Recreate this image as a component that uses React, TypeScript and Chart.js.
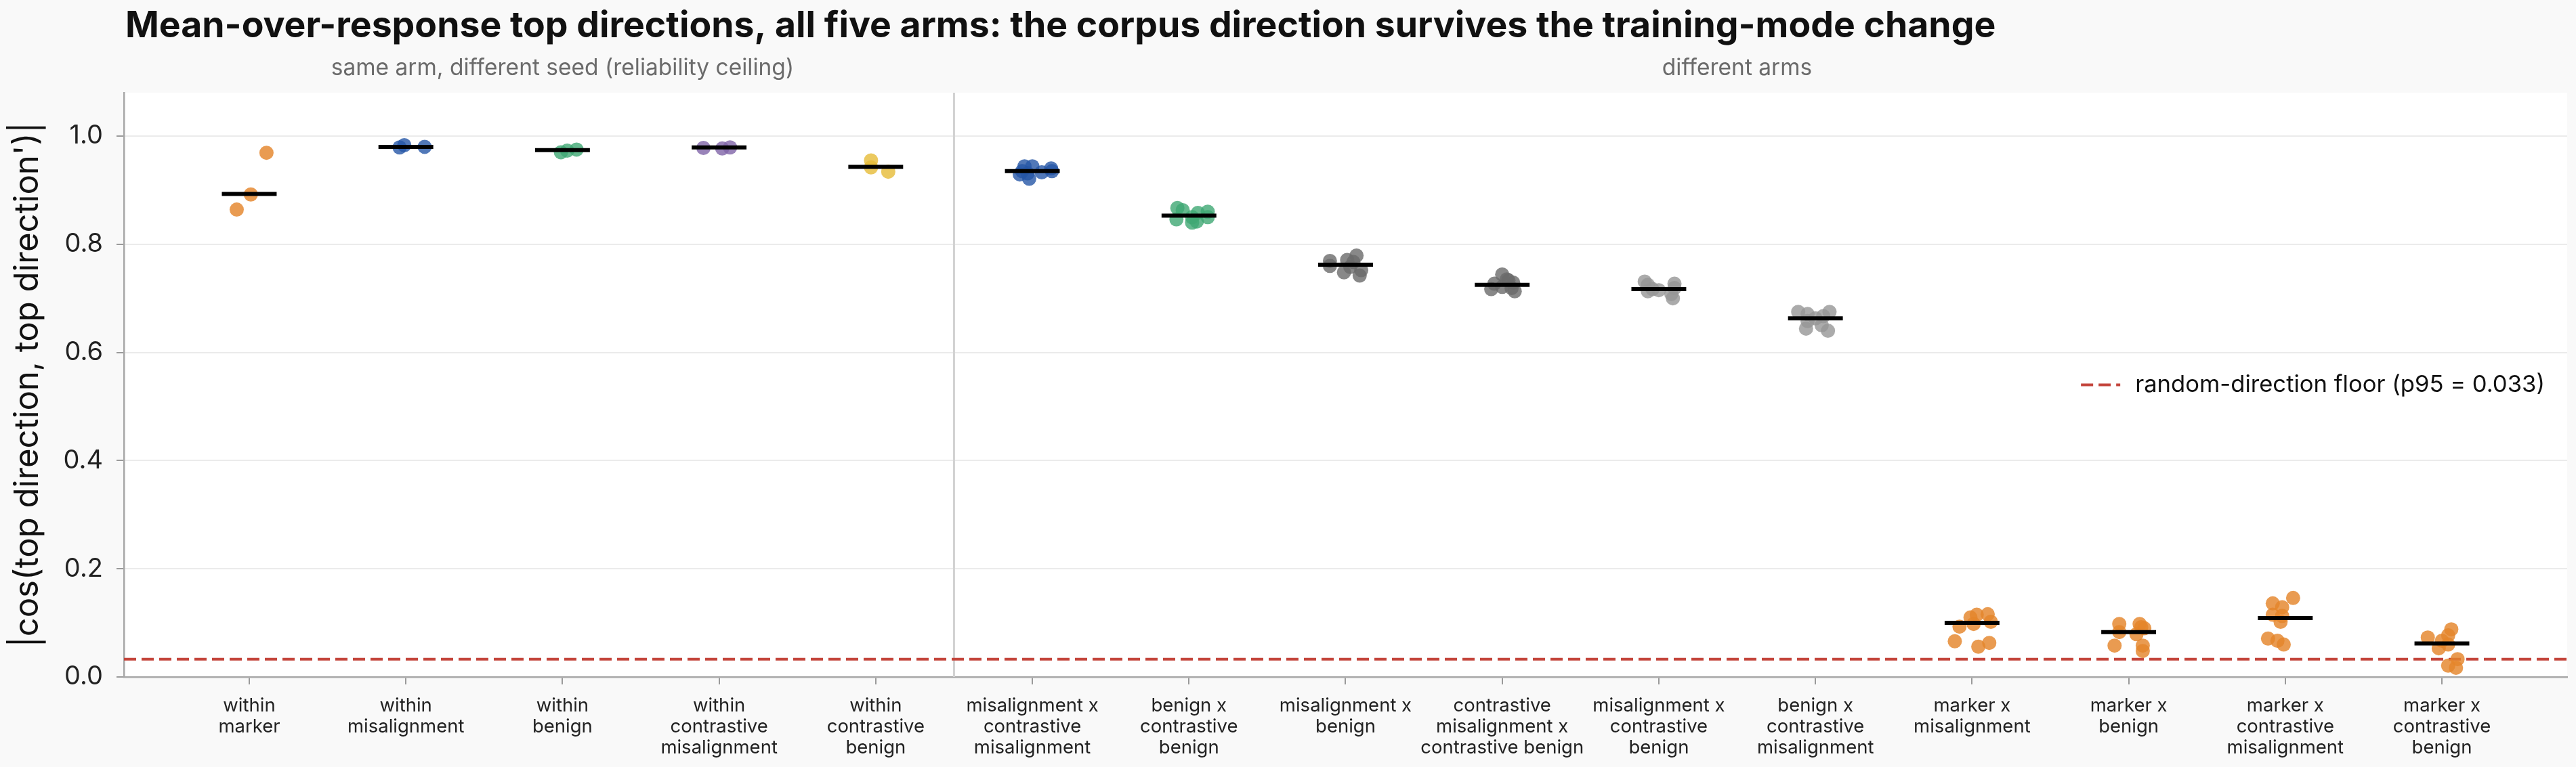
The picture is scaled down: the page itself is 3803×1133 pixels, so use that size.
import React, { useEffect, useRef } from "react";
import { Chart, registerables } from "chart.js";

Chart.register(...registerables);

// ---------- data ----------
const categories = [
  "within\nmarker",
  "within\nmisalignment",
  "within\nbenign",
  "within\ncontrastive\nmisalignment",
  "within\ncontrastive\nbenign",
  "misalignment x\ncontrastive\nmisalignment",
  "benign x\ncontrastive\nbenign",
  "misalignment x\nbenign",
  "contrastive\nmisalignment x\ncontrastive benign",
  "misalignment x\ncontrastive\nbenign",
  "benign x\ncontrastive\nmisalignment",
  "marker x\nmisalignment",
  "marker x\nbenign",
  "marker x\ncontrastive\nmisalignment",
  "marker x\ncontrastive\nbenign",
];

const pointValues: number[][] = [
  [0.969, 0.892, 0.864],
  [0.979, 0.983, 0.98],
  [0.97, 0.973, 0.975],
  [0.978, 0.977, 0.979],
  [0.955, 0.942, 0.934],
  [0.929, 0.944, 0.944, 0.921, 0.933, 0.94, 0.935, 0.931, 0.935],
  [0.867, 0.863, 0.846, 0.84, 0.858, 0.86, 0.85, 0.85, 0.842],
  [0.769, 0.76, 0.771, 0.779, 0.748, 0.742, 0.752, 0.758, 0.767],
  [0.744, 0.727, 0.717, 0.721, 0.733, 0.729, 0.713, 0.735, 0.719],
  [0.731, 0.725, 0.713, 0.715, 0.727, 0.719, 0.7, 0.708, 0.717],
  [0.675, 0.671, 0.675, 0.667, 0.644, 0.65, 0.64, 0.658, 0.663],
  [0.093, 0.066, 0.11, 0.115, 0.116, 0.102, 0.098, 0.056, 0.063],
  [0.098, 0.083, 0.058, 0.098, 0.09, 0.079, 0.058, 0.048, 0.092],
  [0.146, 0.136, 0.129, 0.115, 0.102, 0.071, 0.067, 0.06, 0.113],
  [0.088, 0.077, 0.073, 0.067, 0.053, 0.06, 0.033, 0.021, 0.017],
];

// horizontal jitter of each point, in category units
const pointJitter: number[][] = [
  [0.11, 0.01, -0.08],
  [-0.04, -0.01, 0.12],
  [-0.01, 0.03, 0.09],
  [-0.1, 0.02, 0.07],
  [-0.03, -0.03, 0.08],
  [-0.08, -0.05, 0.0, -0.02, 0.06, 0.12, -0.065, -0.03, 0.125],
  [-0.074, -0.04, -0.08, 0.02, 0.057, 0.12, 0.12, 0.02, 0.05],
  [-0.1, -0.1, 0.01, 0.07, -0.01, 0.09, 0.1, 0.03, 0.05],
  [0.0, -0.05, -0.07, 0.0, 0.04, 0.07, 0.08, 0.03, 0.06],
  [-0.09, -0.07, -0.07, 0.0, 0.1, 0.1, 0.09, 0.08, -0.04],
  [-0.11, -0.05, 0.09, 0.05, -0.06, 0.04, 0.08, -0.05, 0.0],
  [-0.08, -0.11, -0.01, 0.03, 0.1, 0.12, 0.01, 0.04, 0.11],
  [-0.06, -0.06, -0.09, 0.07, 0.1, 0.05, 0.09, 0.09, 0.08],
  [0.05, -0.08, -0.02, -0.08, -0.03, -0.11, -0.05, -0.01, -0.02],
  [0.06, 0.04, -0.09, 0.0, -0.02, 0.04, 0.1, 0.04, 0.09],
];

const groupMeans = [
  0.893, 0.98, 0.974, 0.979, 0.943, 0.935, 0.853, 0.762, 0.725, 0.717, 0.663,
  0.1, 0.083, 0.109, 0.062,
];

const floorValue = 0.033;
const yTicks = [0, 0.2, 0.4, 0.6, 0.8, 1.0];
const sectionLabels = ["same arm, different seed (reliability ceiling)", "different arms"];
const sectionCenters = [2, 9.5];
const titleText =
  "Mean-over-response top directions, all five arms: the corpus direction survives the training-mode change";
const yAxisTitle = "|cos(top direction, top direction')|";
const legendText = "random-direction floor (p95 = 0.033)";

// ---------- styles ----------
const ORANGE = "rgba(228,133,43,0.82)";
const BLUE = "rgba(38,86,166,0.8)";
const GREEN = "rgba(62,168,115,0.8)";
const PURPLE = "rgba(128,100,168,0.8)";
const YELLOW = "rgba(230,188,55,0.8)";
const DGRAY = "rgba(106,106,106,0.8)";
const LGRAY = "rgba(150,150,150,0.8)";
const groupColors = [
  ORANGE, BLUE, GREEN, PURPLE, YELLOW,
  BLUE, GREEN, DGRAY, DGRAY, LGRAY, LGRAY,
  ORANGE, ORANGE, ORANGE, ORANGE,
];
const RED = "#c4453c";
const FONT = "Inter, 'Noto Sans', sans-serif";
const X_MIN = -0.8;
const X_MAX = 14.8;
const SPLIT = 4.5;
const BAR_HALF = 0.175;

export default function App() {
  const canvasRef = useRef<HTMLCanvasElement | null>(null);

  useEffect(() => {
    document.body.style.margin = "0";
    const canvas = canvasRef.current;
    if (!canvas) return;

    const datasets: any[] = [];
    datasets.push({
      type: "line",
      data: [
        { x: X_MIN, y: floorValue },
        { x: X_MAX, y: floorValue },
      ],
      borderColor: RED,
      borderWidth: 4,
      borderDash: [18, 8],
      pointRadius: 0,
      order: 3,
    });
    pointValues.forEach((vals, gi) => {
      datasets.push({
        type: "scatter",
        data: vals.map((v, k) => ({ x: gi + pointJitter[gi][k], y: v })),
        backgroundColor: groupColors[gi],
        borderWidth: 0,
        pointRadius: 10.5,
        order: 2,
      });
    });
    groupMeans.forEach((m, gi) => {
      datasets.push({
        type: "line",
        data: [
          { x: gi - BAR_HALF, y: m },
          { x: gi + BAR_HALF, y: m },
        ],
        borderColor: "#000",
        borderWidth: 6,
        pointRadius: 0,
        borderCapStyle: "butt",
        order: 1,
      });
    });

    const decor = {
      id: "decor",
      beforeDraw(chart: any) {
        const { ctx, chartArea: a } = chart;
        ctx.save();
        ctx.fillStyle = "#f9f9f9";
        ctx.fillRect(0, 0, chart.width, chart.height);
        ctx.fillStyle = "#ffffff";
        ctx.fillRect(a.left, a.top, a.right - a.left, a.bottom - a.top);
        ctx.restore();
      },
      beforeDatasetsDraw(chart: any) {
        const { ctx, chartArea: a } = chart;
        const xs = chart.scales.x;
        const px = xs.getPixelForValue(SPLIT);
        ctx.save();
        ctx.strokeStyle = "#d2d2d2";
        ctx.lineWidth = 3;
        ctx.beginPath();
        ctx.moveTo(px, a.top);
        ctx.lineTo(px, a.bottom);
        ctx.stroke();
        ctx.restore();
      },
      afterDraw(chart: any) {
        const { ctx, chartArea: a } = chart;
        const xs = chart.scales.x;
        ctx.save();
        ctx.fillStyle = "#111";
        ctx.font = `bold 53.5px ${FONT}`;
        ctx.textAlign = "left";
        ctx.textBaseline = "alphabetic";
        ctx.fillText(titleText, 185, 55);
        ctx.fillStyle = "#6b6b6b";
        ctx.font = `33.5px ${FONT}`;
        ctx.textAlign = "center";
        ctx.textBaseline = "middle";
        sectionLabels.forEach((s, i) => {
          ctx.fillText(s, xs.getPixelForValue(sectionCenters[i]), 101);
        });
        ctx.fillStyle = "#111";
        ctx.font = `49px ${FONT}`;
        ctx.translate(41, (a.top + a.bottom) / 2);
        ctx.rotate(-Math.PI / 2);
        ctx.fillText(yAxisTitle, 0, 0);
        ctx.restore();

        // legend: text right edge near the axes' right edge
        ctx.save();
        const ly = (a.top + a.bottom) / 2;
        ctx.font = `35px ${FONT}`;
        const w0 = ctx.measureText(legendText).width;
        const fs = (35 * 605) / w0;
        ctx.font = `${fs}px ${FONT}`;
        const textRight = a.right - 33;
        const textLeft = textRight - ctx.measureText(legendText).width;
        ctx.strokeStyle = RED;
        ctx.lineWidth = 4;
        ctx.setLineDash([18, 8]);
        ctx.beginPath();
        ctx.moveTo(textLeft - 80, ly);
        ctx.lineTo(textLeft - 22, ly);
        ctx.stroke();
        ctx.setLineDash([]);
        ctx.fillStyle = "#111";
        ctx.textAlign = "left";
        ctx.textBaseline = "middle";
        ctx.fillText(legendText, textLeft, ly);
        ctx.restore();
      },
    };

    const chart = new Chart(canvas, {
      type: "scatter",
      data: { datasets },
      options: {
        animation: false,
        responsive: false,
        devicePixelRatio: 1,
        layout: { padding: { top: 137, right: 13, left: 0, bottom: 0 } },
        plugins: { legend: { display: false }, tooltip: { enabled: false }, title: { display: false } },
        scales: {
          x: {
            type: "linear",
            min: X_MIN,
            max: X_MAX,
            afterBuildTicks(scale: any) {
              scale.ticks = categories.map((_, i) => ({ value: i }));
            },
            afterFit(scale: any) {
              scale.height = 133;
            },
            ticks: {
              autoSkip: false,
              maxRotation: 0,
              minRotation: 0,
              padding: 16,
              color: "#222",
              font: { family: FONT, size: 27.5, lineHeight: 1.13 },
              callback: (v: any) => {
                const i = Math.round(Number(v));
                return categories[i] ? categories[i].split("\n") : "";
              },
            },
            grid: {
              drawOnChartArea: false,
              drawTicks: true,
              tickLength: 11,
              tickColor: "#9a9a9a",
              lineWidth: 2,
            },
            border: { display: true, color: "#a8a8a8", width: 2.5 },
          },
          y: {
            type: "linear",
            min: 0,
            max: 1.08,
            afterBuildTicks(scale: any) {
              scale.ticks = yTicks.map((v) => ({ value: v }));
            },
            afterFit(scale: any) {
              scale.width = 183;
            },
            ticks: {
              padding: 20,
              color: "#222",
              font: { family: FONT, size: 38 },
              callback: (v: any) => Number(v).toFixed(1),
            },
            grid: {
              color: "#ebebeb",
              lineWidth: 2,
              drawTicks: true,
              tickLength: 11,
              tickColor: "#9a9a9a",
            },
            border: { display: true, color: "#a8a8a8", width: 2.5 },
          },
        },
      } as any,
      plugins: [decor],
    });

    return () => chart.destroy();
  }, []);

  return (
    <div style={{ width: 3803, height: 1133, background: "#f9f9f9" }}>
      <canvas ref={canvasRef} width={3803} height={1133} style={{ display: "block" }} />
    </div>
  );
}
